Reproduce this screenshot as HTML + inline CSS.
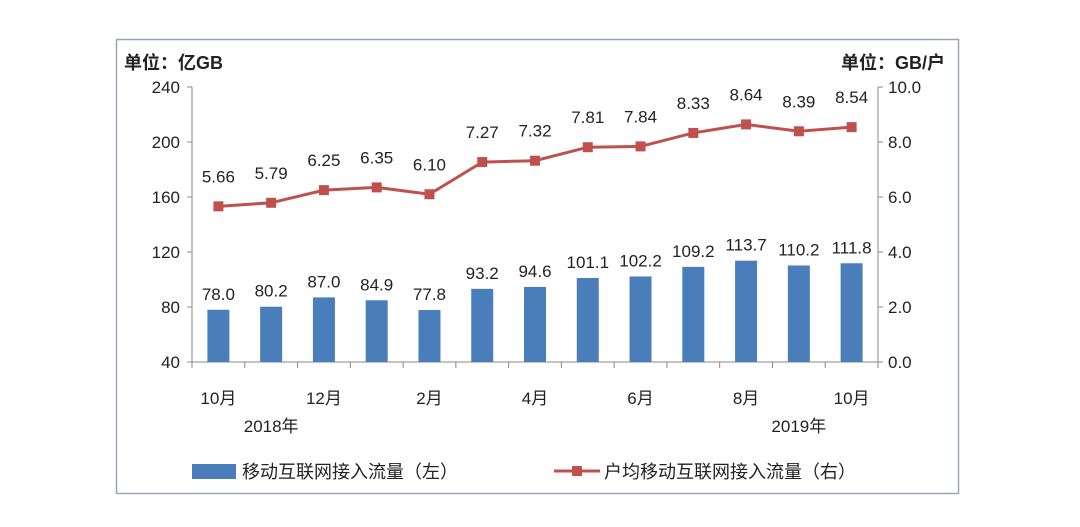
<!DOCTYPE html>
<html><head><meta charset="utf-8"><style>
body{margin:0;background:#fff;width:1080px;height:522px;overflow:hidden}
svg text{font-family:"Liberation Sans","Noto Sans CJK SC",sans-serif;fill:#222}
</style></head><body>
<svg id="c" width="1080" height="522">
<rect x="116.5" y="39.5" width="842" height="454" fill="#fff" stroke="#9aa6b8" stroke-width="1.5"/>
<text x="124" y="69" font-size="18" font-weight="bold">单位：亿GB</text>
<text x="945" y="69" font-size="18" font-weight="bold" text-anchor="end">单位：GB/户</text>
<g id="g"></g>
</svg>
<script>
const categories=["10月","11月","12月","1月","2月","3月","4月","5月","6月","7月","8月","9月","10月"];
const barValues=[78.0,80.2,87.0,84.9,77.8,93.2,94.6,101.1,102.2,109.2,113.7,110.2,111.8];
const lineValues=[5.66,5.79,6.25,6.35,6.10,7.27,7.32,7.81,7.84,8.33,8.64,8.39,8.54];
const leftTicks=[40,80,120,160,200,240];
const rightTicks=[0,2,4,6,8,10];
const monthLabels=["10月","","12月","","2月","","4月","","6月","","8月","","10月"];
const yearLabels=[{i:1,t:"2018年"},{i:11,t:"2019年"}];

const X0=192,X1=878,Y0=362,Y1=87;
const n=categories.length,step=(X1-X0)/n;
const xc=i=>X0+step*(i+0.5);
const yL=v=>Y0-(v-40)/200*(Y0-Y1);
const yR=v=>Y0-v/10*(Y0-Y1);
const g=document.getElementById('g');
const NS="http://www.w3.org/2000/svg";
function mk(t,a,txt){const e=document.createElementNS(NS,t);for(const k in a)e.setAttribute(k,a[k]);if(txt!=null)e.textContent=txt;g.appendChild(e);return e;}

// axes
let e=mk('line',{x1:X0,y1:Y1,x2:X0,y2:Y0,stroke:'#888'});


e=mk('line',{x1:X1,y1:Y1,x2:X1,y2:Y0,stroke:'#888'});


e=mk('line',{x1:X0,y1:Y0,x2:X1,y2:Y0,stroke:'#888'});


leftTicks.forEach(v=>{
  mk('line',{x1:X0-5,y1:yL(v),x2:X0,y2:yL(v),stroke:'#888'});
  e=mk('text',{x:X0-12,y:yL(v)+6,'font-size':17,'text-anchor':'end'},v);
  
  
});
rightTicks.forEach(v=>{
  mk('line',{x1:X1,y1:yR(v),x2:X1+5,y2:yR(v),stroke:'#888'});
  e=mk('text',{x:X1+10,y:yR(v)+6,'font-size':17},v.toFixed(1));
  
  
});
for(let i=0;i<=n;i++){mk('line',{x1:X0+step*i,y1:Y0,x2:X0+step*i,y2:Y0+6,stroke:'#888'});}
// bars
barValues.forEach((v,i)=>{
  e=mk('rect',{x:xc(i)-11,y:yL(v),width:22,height:Y0-yL(v),fill:'#4a7ebb'});
  
  
  e=mk('text',{x:xc(i),y:yL(v)-10,'font-size':17,'text-anchor':'middle'},v.toFixed(1));
  
  
});
// line
e=mk('polyline',{points:lineValues.map((v,i)=>xc(i)+','+yR(v)).join(' '),fill:'none',stroke:'#c0504d','stroke-width':3});


lineValues.forEach((v,i)=>{
  e=mk('rect',{x:xc(i)-5,y:yR(v)-5,width:10,height:10,fill:'#c0504d'});
  
  
  e=mk('text',{x:xc(i),y:yR(v)-24,'font-size':17,'text-anchor':'middle'},v.toFixed(2));
  
  
});
monthLabels.forEach((t,i)=>{if(!t)return;
  e=mk('text',{x:xc(i),y:404,'font-size':17,'text-anchor':'middle'},t);
  
  
});
yearLabels.forEach(o=>{
  e=mk('text',{x:xc(o.i),y:432,'font-size':17,'text-anchor':'middle'},o.t);
  
  
});
// legend
e=mk('rect',{x:192,y:464,width:44,height:15,fill:'#4a7ebb'});


e=mk('text',{x:242,y:478,'font-size':18},'移动互联网接入流量（左）');


mk('line',{x1:554,y1:471,x2:600,y2:471,stroke:'#c0504d','stroke-width':3});
e=mk('rect',{x:572,y:466,width:10,height:10,fill:'#c0504d'});


e=mk('text',{x:604,y:478,'font-size':18},'户均移动互联网接入流量（右）');


</script>
</body></html>
